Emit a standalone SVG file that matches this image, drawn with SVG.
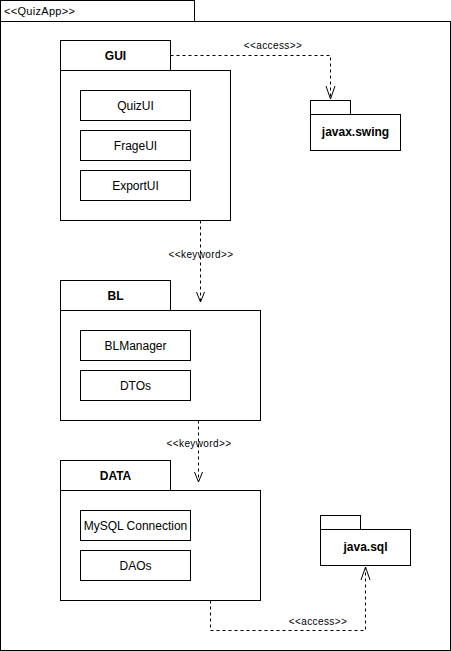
<svg xmlns="http://www.w3.org/2000/svg" width="451" height="651" viewBox="0 0 451 651">
<defs>
<style>
.b{fill:#fff;stroke:#000;stroke-width:1}
.t{font-family:"Liberation Sans",Arial,sans-serif;font-size:12px;fill:#000;text-anchor:middle;dominant-baseline:central}
.h{font-weight:bold}
.l{font-family:"Liberation Sans",Arial,sans-serif;font-size:10px;letter-spacing:0.4px;fill:#000;text-anchor:middle;dominant-baseline:central}
.c{fill:none;stroke:#000;stroke-width:1;stroke-dasharray:3 3}
.a{fill:none;stroke:#000;stroke-width:1}
</style>
</defs>
<g id="QuizApp">
<rect class="b" x="0.5" y="0.5" width="194" height="21"/>
<rect class="b" x="0.5" y="21.5" width="450" height="629"/>
<text x="4" y="11" style="font-family:'Liberation Sans',Arial,sans-serif;font-size:11px;letter-spacing:0.3px" dominant-baseline="central">&lt;&lt;QuizApp&gt;&gt;</text>
</g>
<g id="GUI">
<rect class="b" x="60.5" y="40.5" width="110" height="30"/>
<rect class="b" x="60.5" y="70.5" width="170" height="150"/>
<text class="t h" x="115.5" y="55.5">GUI</text>
</g>
<g id="QuizUI"><rect class="b" x="80.5" y="90.5" width="110" height="30"/><text class="t" x="135.5" y="105.5">QuizUI</text></g>
<g id="FrageUI"><rect class="b" x="80.5" y="130.5" width="110" height="30"/><text class="t" x="135.5" y="145.5">FrageUI</text></g>
<g id="ExportUI"><rect class="b" x="80.5" y="170.5" width="110" height="30"/><text class="t" x="135.5" y="185.5">ExportUI</text></g>
<g id="javax.swing">
<rect class="b" x="310.5" y="100.5" width="40" height="14"/>
<rect class="b" x="310.5" y="114.5" width="90" height="36"/>
<text class="t h" x="355.5" y="131.5">javax.swing</text>
</g>
<g id="BL">
<rect class="b" x="60.5" y="280.5" width="110" height="30"/>
<rect class="b" x="60.5" y="310.5" width="200" height="110"/>
<text class="t h" x="115.5" y="295.5">BL</text>
</g>
<g id="BLManager"><rect class="b" x="80.5" y="330.5" width="110" height="30"/><text class="t" x="135.5" y="345.5">BLManager</text></g>
<g id="DTOs"><rect class="b" x="80.5" y="370.5" width="110" height="30"/><text class="t" x="135.5" y="385.5">DTOs</text></g>
<g id="DATA">
<rect class="b" x="60.5" y="460.5" width="110" height="30"/>
<rect class="b" x="60.5" y="490.5" width="200" height="110"/>
<text class="t h" x="115.5" y="475.5">DATA</text>
</g>
<g id="MySQLConnection"><rect class="b" x="80.5" y="510.5" width="110" height="30"/><text class="t" x="135.5" y="525.5">MySQL Connection</text></g>
<g id="DAOs"><rect class="b" x="80.5" y="550.5" width="110" height="30"/><text class="t" x="135.5" y="565.5">DAOs</text></g>
<g id="java.sql">
<rect class="b" x="320.5" y="515.5" width="40" height="14"/>
<rect class="b" x="320.5" y="529.5" width="90" height="36"/>
<text class="t h" x="365.5" y="546.5">java.sql</text>
</g>
<g id="connectors">
<path class="c" d="M170.5,55.5 H330.5 V99"/>
<path class="a" d="M326,86 L330.5,99 L335,86"/>
<text class="l" x="273" y="45">&lt;&lt;access&gt;&gt;</text>
<path class="c" d="M200.5,220.5 V302"/>
<path class="a" d="M196.5,292 L200.5,302 L204.5,292"/>
<text class="l" x="201" y="254">&lt;&lt;keyword&gt;&gt;</text>
<path class="c" d="M198.5,420.5 V482"/>
<path class="a" d="M194.5,472 L198.5,482 L202.5,472"/>
<text class="l" x="199" y="443">&lt;&lt;keyword&gt;&gt;</text>
<path class="c" d="M210.5,600.5 V630.5 H365.5 V567"/>
<path class="a" d="M361,580 L365.5,567 L370,580"/>
<text class="l" x="318" y="621">&lt;&lt;access&gt;&gt;</text>
</g>
</svg>
